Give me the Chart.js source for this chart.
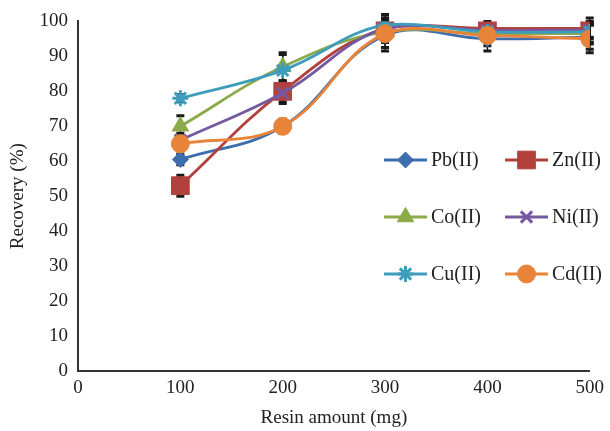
<!DOCTYPE html>
<html><head><meta charset="utf-8">
<script src="https://cdn.jsdelivr.net/npm/chart.js@4/dist/chart.umd.min.js"></script>
<style>html,body{margin:0;padding:0;background:#fff}#wrap{width:610px;height:431px}</style>
</head><body><div id="wrap"><canvas id="c" width="610" height="431"></canvas></div>
<script>
const xValues = [100, 200, 300, 400, 500];
const seriesNames = ['Pb(II)', 'Zn(II)', 'Co(II)', 'Ni(II)', 'Cu(II)', 'Cd(II)'];
const pb = [60.5, 70, 96, 95, 95.5];
const zn = [53, 80, 98, 98, 98];
const co = [70, 87, 97, 96.5, 96.5];
const ni = [66, 79.5, 98, 97.5, 97.5];
const cu = [78, 86, 99, 97, 97];
const cd = [65, 70, 96.5, 96, 95];
const pbErr = [1.5, 1.5, 4.5, 3.5, 3.5];
const znErr = [3, 3, 3, 2, 3];
const coErr = [3, 4, 3, 2, 3];
const niErr = [2, 3, 3, 2, 2];
const cuErr = [1, 4.5, 3, 2, 3];
const cdErr = [2, 2, 4, 3, 4];
const yTicks = [0,10,20,30,40,50,60,70,80,90,100];
const xTicks = [0,100,200,300,400,500];

const values = [pb, zn, co, ni, cu, cd];
const errors = [pbErr, znErr, coErr, niErr, cuErr, cdErr];
const colors = ['#3C6EAD', '#B2413E', '#8BAA4A', '#7459A0', '#3E9DBB', '#E8833A'];
const styles = ['rectRot', 'rect', 'triangle', 'crossRot', 'star', 'circle'];
const radii = [8, 12.5, 9.5, 8, 8, 9];

const datasets = values.map((v, i) => ({
  label: seriesNames[i],
  data: xValues.map((x, j) => ({x: x, y: v[j]})),
  errs: errors[i],
  borderColor: colors[i],
  backgroundColor: colors[i],
  pointBackgroundColor: colors[i],
  pointBorderColor: colors[i],
  pointStyle: styles[i],
  pointRadius: radii[i],
  pointHoverRadius: radii[i],
  pointBorderWidth: (styles[i] === 'crossRot' || styles[i] === 'star') ? 3 : 1,
  borderWidth: 2.8,
  tension: 0.4,
  fill: false,
  order: 6 - i
}));

const errorBars = {
  id: 'errorBars',
  beforeDatasetsDraw(chart) {
    const ctx = chart.ctx, xs = chart.scales.x, ys = chart.scales.y;
    ctx.save();
    ctx.strokeStyle = '#1a1a1a';
    chart.data.datasets.forEach(ds => {
      ds.data.forEach((p, j) => {
        const e = ds.errs[j];
        const px = xs.getPixelForValue(p.x);
        const top = ys.getPixelForValue(p.y + e), bot = ys.getPixelForValue(p.y - e);
        ctx.lineWidth = 1.5;
        ctx.beginPath(); ctx.moveTo(px, top); ctx.lineTo(px, bot); ctx.stroke();
        ctx.lineWidth = 3;
        ctx.beginPath();
        ctx.moveTo(px - 4, top); ctx.lineTo(px + 4, top);
        ctx.moveTo(px - 4, bot); ctx.lineTo(px + 4, bot);
        ctx.stroke();
      });
    });
    ctx.restore();
  }
};

const customLegend = {
  id: 'customLegend',
  afterDraw(chart) {
    const ctx = chart.ctx;
    const cols = [384, 505];
    const rows = [160, 217, 274];
    ctx.save();
    chart.data.datasets.forEach((ds, i) => {
      const x0 = cols[i % 2], y = rows[Math.floor(i / 2)];
      ctx.strokeStyle = ds.borderColor;
      ctx.lineWidth = 2.8;
      ctx.beginPath(); ctx.moveTo(x0, y); ctx.lineTo(x0 + 43, y); ctx.stroke();
      ctx.fillStyle = ds.pointBackgroundColor;
      ctx.strokeStyle = ds.pointBorderColor;
      ctx.lineWidth = ds.pointBorderWidth;
      Chart.helpers.drawPoint(ctx, {pointStyle: ds.pointStyle, radius: ds.pointRadius, rotation: 0, borderWidth: ds.pointBorderWidth}, x0 + 21.5, y);
      ctx.fillStyle = '#222';
      ctx.font = '20px "Liberation Serif"';
      ctx.textBaseline = 'middle';
      ctx.textAlign = 'left';
      ctx.fillText(ds.label, x0 + 47, y + 1);
    });
    ctx.restore();
  }
};

new Chart(document.getElementById('c'), {
  type: 'line',
  data: { datasets: datasets },
  options: {
    responsive: false,
    animation: false,
    devicePixelRatio: 1,
    layout: { padding: { top: 20, right: 18, left: 0, bottom: 0 } },
    plugins: { legend: { display: false }, tooltip: { enabled: false } },
    scales: {
      x: {
        type: 'linear', min: 0, max: 500,
        afterBuildTicks(s) { s.ticks = xTicks.map(v => ({value: v})); },
        afterFit(s) { s.height = 60; },
        grid: { display: false, drawTicks: false },
        border: { display: true, color: '#333', width: 2 },
        ticks: { color: '#222', font: { family: 'Liberation Serif', size: 19 }, padding: 6, maxRotation: 0 },
        title: { display: true, text: 'Resin amount (mg)', color: '#222', font: { family: 'Liberation Serif', size: 19 }, padding: { top: 0, bottom: 2 } }
      },
      y: {
        min: 0, max: 100,
        afterBuildTicks(s) { s.ticks = yTicks.map(v => ({value: v})); },
        afterFit(s) { s.width = 78; },
        grid: { display: false, drawTicks: false },
        border: { display: true, color: '#333', width: 2 },
        ticks: { color: '#222', font: { family: 'Liberation Serif', size: 19 }, padding: 10 },
        title: { display: true, text: 'Recovery (%)', color: '#222', font: { family: 'Liberation Serif', size: 19 }, padding: { top: 7, bottom: 0 } }
      }
    }
  },
  plugins: [errorBars, customLegend]
});
</script></body></html>
